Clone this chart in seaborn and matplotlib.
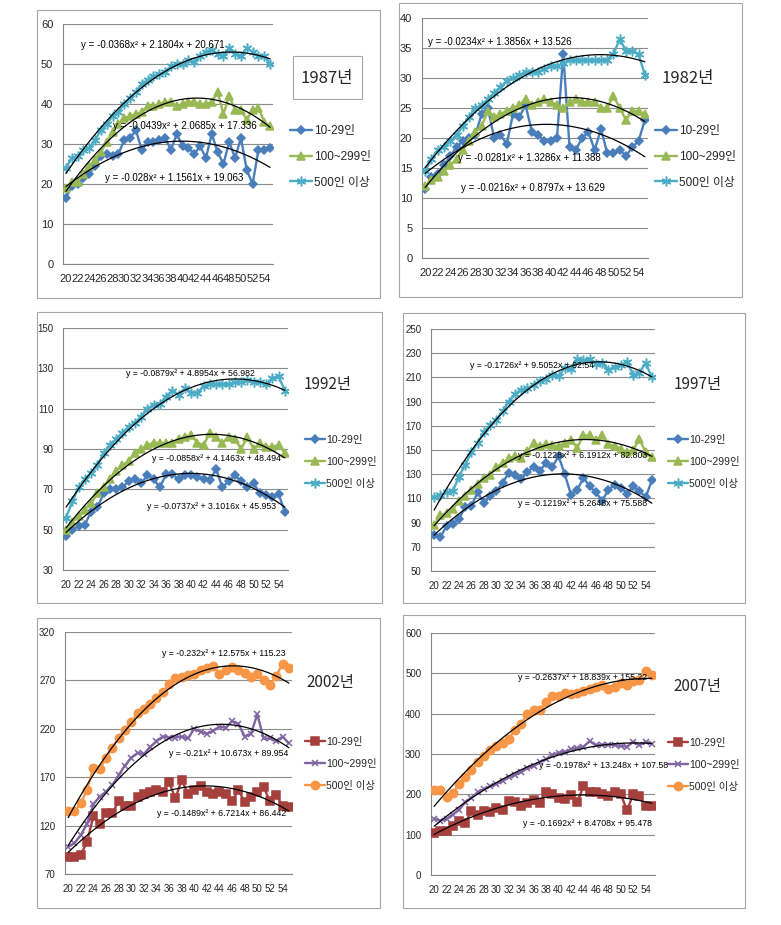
import numpy as np
import seaborn as sns
import matplotlib.pyplot as plt
from matplotlib.lines import Line2D
from matplotlib.patches import Rectangle

# 연령 (20~55세), x축 눈금 라벨
ages = list(range(20, 56))
tick_labels = [str(a) for a in range(20, 56, 2)]
groups = ['10-29인', '100~299인', '500인 이상']

# ---- 1987 ----
y1987_small = [16.5, 19.5, 20, 21.5, 22.5, 24.5, 27, 27.5, 27, 27.5, 31, 31.5, 33.5, 28.5, 30.5, 30.5, 31, 31.5,
               28.5, 32.5, 29.5, 29, 27.5, 29.5, 26.5, 32.5, 28, 25, 30.5, 26.5, 31.5, 23.5, 20, 28.5, 28.5, 29]
y1987_mid = [19, 20.5, 20.5, 22.5, 24.5, 26, 28, 30.5, 33, 35, 36.5, 37, 37.5, 38, 39.5, 39.5, 40, 40.5,
             40.5, 39.5, 40, 40.5, 40.5, 40, 40, 40.5, 43, 37.5, 42, 38.5, 38.5, 36, 38.5, 39, 35.5, 34.5]
y1987_large = [24, 26.5, 27, 28.5, 29, 31, 33.5, 35, 37, 38, 40, 41.5, 43, 45, 46, 47, 47.5, 48,
               49.5, 50, 50, 51, 50.5, 52, 53, 53.5, 52.5, 52, 54, 52.5, 52, 54, 53, 52, 52, 50]
eq1987 = ['y = -0.028x² + 1.1561x + 19.063', 'y = -0.0439x² + 2.0685x + 17.336',
          'y = -0.0368x² + 2.1804x + 20.671']

# ---- 1982 ----
y1982_small = [11.5, 13.5, 14, 15.5, 17, 18.5, 19.5, 20, 20.5, 24, 25, 20, 20.5, 19, 24, 23.5, 25.5, 21,
               20.5, 19.5, 19.5, 20, 34, 18.5, 18, 20, 21, 18, 21.5, 17.5, 17.5, 18, 17, 18.5, 19.5, 23]
y1982_mid = [12, 13, 13.5, 14.5, 15.5, 16.5, 18, 19.5, 21, 22, 24.5, 23.5, 24, 24.5, 25, 25.5, 26.5, 25.5,
             26, 26.5, 26, 25.5, 25, 26, 26.5, 26, 26, 26, 25, 25, 27, 25, 23, 24.5, 24.5, 24]
y1982_large = [14.5, 16.5, 18, 18.5, 19.5, 20.5, 22, 23.5, 25, 25.5, 26.5, 27.5, 28.5, 29.5, 30, 30.5, 31, 31,
               31, 31.5, 32, 32, 32.5, 33, 33, 33, 33, 33, 33, 33, 34, 36.5, 34.5, 34.5, 34, 30.5]
eq1982 = ['y = -0.0216x² + 0.8797x + 13.629', 'y = -0.0281x² + 1.3286x + 11.388',
          'y = -0.0234x² + 1.3856x + 13.526']

# ---- 1992 ----
y1992_small = [47, 50, 52, 52.5, 59, 61, 68, 70, 70, 71, 74, 75, 73, 77, 75, 71, 77.5, 77.5,
               75, 77, 77, 76, 75, 74.5, 80, 71, 74, 77, 74, 71, 73, 68, 67, 66, 67.5, 59]
y1992_mid = [50, 54, 57, 60, 63, 68, 71, 75, 79, 82, 84, 88, 90, 92, 93, 93, 93, 93,
             95, 96, 97, 93, 92, 98, 96, 93, 96, 95, 90, 96, 90, 93, 91, 91, 92, 88]
y1992_large = [56, 64, 71, 75, 78, 82, 88, 92, 95, 98, 101, 103, 106, 110, 112, 112.5, 116, 119,
               117, 120, 118, 118, 121, 122, 122, 122, 122, 123, 123, 124, 123, 123, 122, 125, 126, 119]
eq1992 = ['y = -0.0737x² + 3.1016x + 45.953', 'y = -0.0858x² + 4.1463x + 48.494',
          'y = -0.0879x² + 4.8954x + 56.982']

# ---- 1997 ----
y1997_small = [80, 78, 87, 89, 93, 103, 104, 115, 106, 112, 116, 123, 131, 129, 126, 132, 136, 133,
               139, 136, 145, 130, 113, 117, 127, 120, 115, 108, 117, 121, 119, 114, 120, 116, 111, 125]
y1997_mid = [88, 96, 98, 101, 108, 112, 117, 122, 127, 129, 136, 139, 143, 145, 143, 149, 156, 153,
             155, 154, 153, 156, 158, 152, 162, 162, 158, 162, 155, 153, 151, 148, 150, 159, 148, 144]
y1997_large = [111, 113, 115, 116, 128, 138, 148, 156, 165, 171, 175, 182, 190, 196, 200, 201, 204, 207,
               209, 212, 211, 218, 217, 225, 224, 225, 221, 222, 216, 219, 220, 223, 212, 214, 222, 210]
eq1997 = ['y = -0.1219x² + 5.2648x + 75.588', 'y = -0.1228x² + 6.1912x + 82.803',
          'y = -0.1726x² + 9.5052x + 92.54']

# ---- 2002 ----
y2002_small = [88, 88, 90, 103, 130, 122, 133, 133, 145, 140, 140, 150, 153, 155, 157, 155, 165, 148,
               167, 153, 157, 161, 155, 153, 155, 153, 145, 157, 144, 150, 155, 160, 145, 152, 140, 139]
y2002_mid = [98, 102, 110, 122, 142, 150, 155, 162, 172, 182, 190, 195, 194, 201, 207, 212, 211, 211,
             212, 210, 220, 217, 215, 218, 222, 221, 228, 225, 212, 215, 235, 210, 210, 207, 212, 205]
y2002_large = [135, 135, 143, 157, 180, 178, 190, 200, 211, 219, 227, 236, 240, 246, 252, 258, 266, 272,
               274, 276, 277, 281, 283, 285, 277, 281, 284, 281, 278, 274, 277, 270, 265, 275, 287, 283]
eq2002 = ['y = -0.1489x² + 6.7214x + 86.442', 'y = -0.21x² + 10.673x + 89.954',
          'y = -0.232x² + 12.575x + 115.23']

# ---- 2007 ----
y2007_small = [105, 110, 110, 122, 135, 130, 158, 148, 158, 155, 165, 162, 183, 182, 172, 178, 185, 178,
               205, 200, 190, 188, 198, 180, 220, 205, 205, 202, 195, 205, 200, 160, 200, 195, 172, 170]
y2007_mid = [140, 135, 138, 150, 162, 180, 192, 205, 213, 220, 225, 233, 242, 248, 255, 265, 270, 280,
             287, 297, 303, 305, 312, 315, 318, 332, 322, 323, 323, 322, 320, 318, 330, 322, 330, 325]
y2007_large = [210, 210, 193, 203, 225, 243, 260, 280, 295, 310, 320, 328, 338, 360, 375, 400, 410, 410,
               430, 445, 445, 452, 450, 452, 455, 462, 465, 470, 462, 465, 475, 472, 480, 483, 505, 495]
eq2007 = ['y = -0.1692x² + 8.4708x + 95.478', 'y = -0.1978x² + 13.248x + 107.58',
          'y = -0.2637x² + 18.839x + 155.22']

# 시리즈 스타일 (엑셀 기본 색)
style_a = [dict(color='#4A7EBB', marker='D', ms=4.5),
           dict(color='#98B954', marker='^', ms=6),
           dict(color='#4BACC6', marker=(6, 2, 0), ms=7)]
style_b = [dict(color='#A5403D', marker='s', ms=5.5),
           dict(color='#8064A2', marker='x', ms=5),
           dict(color='#F79646', marker='o', ms=6)]

W, H = 781, 925

def fx(px):
    return px / W

def fy(py):
    return 1 - py / H

# 패널 배치 (픽셀 기준)
panels = [
    dict(year='1987년', data=[y1987_small, y1987_mid, y1987_large], eq=eq1987, st=style_a,
         box=(37, 10, 380, 298), plot=(63, 24, 273, 264), ylim=(0, 60), step=10,
         title=(327, 78), tbox=(293, 56, 362, 99), leg=(290, 157),
         eqpos=[(105, 178), (113, 126), (81, 45)], fs=8, eqfs=7, tfs=12),
    dict(year='1982년', data=[y1982_small, y1982_mid, y1982_large], eq=eq1982, st=style_a,
         box=(399, 3, 742, 297), plot=(422, 18, 648, 258), ylim=(0, 40), step=5,
         title=(688, 78), tbox=None, leg=(655, 157),
         eqpos=[(461, 188), (458, 158), (428, 42)], fs=8, eqfs=7, tfs=12),
    dict(year='1992년', data=[y1992_small, y1992_mid, y1992_large], eq=eq1992, st=style_a,
         box=(37, 312, 382, 603), plot=(63, 328, 288, 570), ylim=(30, 150), step=20,
         title=(328, 385), tbox=None, leg=(305, 462),
         eqpos=[(147, 507), (152, 458), (126, 373)], fs=7, eqfs=6.3, tfs=11),
    dict(year='1997년', data=[y1997_small, y1997_mid, y1997_large], eq=eq1997, st=style_a,
         box=(403, 313, 745, 603), plot=(431, 329, 655, 571), ylim=(50, 250), step=20,
         title=(698, 385), tbox=None, leg=(668, 462),
         eqpos=[(518, 503), (518, 455), (470, 365)], fs=7, eqfs=6.3, tfs=11),
    dict(year='2002년', data=[y2002_small, y2002_mid, y2002_large], eq=eq2002, st=style_b,
         box=(37, 618, 380, 908), plot=(65, 632, 292, 874), ylim=(70, 320), step=50,
         title=(330, 682), tbox=None, leg=(305, 764),
         eqpos=[(157, 813), (169, 753), (162, 653)], fs=7, eqfs=6.3, tfs=11),
    dict(year='2007년', data=[y2007_small, y2007_mid, y2007_large], eq=eq2007, st=style_b,
         box=(403, 615, 745, 908), plot=(431, 633, 655, 875), ylim=(0, 600), step=100,
         title=(697, 687), tbox=None, leg=(668, 765),
         eqpos=[(523, 823), (539, 765), (518, 678)], fs=7, eqfs=6.3, tfs=11),
]

sns.set_theme(style='white')
plt.rcParams['font.family'] = ['Liberation Sans', 'Noto Sans CJK KR', 'DejaVu Sans']

fig = plt.figure(figsize=(W / 100, H / 100), dpi=100)
fig.patch.set_facecolor('white')

x_idx = np.arange(len(ages))

for p in panels:
    bl, bt, br, bb = p['box']
    fig.add_artist(Rectangle((fx(bl), fy(bb)), fx(br) - fx(bl), (bb - bt) / H,
                             transform=fig.transFigure, fill=False, ec='#a6a6a6', lw=0.8))

    l, t, r, b = p['plot']
    ax = fig.add_axes([fx(l), fy(b), fx(r) - fx(l), (b - t) / H])

    handles = []
    for vals, st, eq, (ex, ey) in zip(p['data'], p['st'], p['eq'], p['eqpos']):
        sns.lineplot(x=x_idx, y=vals, ax=ax, color=st['color'], lw=1.7,
                     marker=st['marker'], markersize=st['ms'], markeredgecolor=st['color'],
                     markeredgewidth=1.1, zorder=3)
        # 2차 다항 추세선
        sns.regplot(x=x_idx, y=np.array(vals, dtype=float), ax=ax, order=2, ci=None,
                    scatter=False, truncate=True,
                    line_kws=dict(color='black', lw=0.9, zorder=5))
        fig.text(fx(ex), fy(ey), eq, fontsize=p['eqfs'], ha='left', va='center',
                 color='black', zorder=10)
        handles.append(Line2D([], [], color=st['color'], lw=1.7, marker=st['marker'],
                              markersize=st['ms'], markeredgecolor=st['color'],
                              markeredgewidth=1.1))

    ymin, ymax = p['ylim']
    ax.set_ylim(ymin, ymax)
    ax.set_xlim(-0.5, len(ages) - 0.5)
    ax.set_yticks(np.arange(ymin, ymax + 1, p['step']))
    ax.set_xticks(np.arange(-0.5, len(ages), 1.0))
    ax.set_xticklabels([])
    ax.set_xticks(np.arange(0, len(ages), 2), minor=True)
    ax.set_xticklabels(tick_labels, minor=True)
    ax.tick_params(axis='x', which='major', length=4, width=0.7, color='#868686', direction='out')
    ax.tick_params(axis='x', which='minor', length=0, pad=7, labelsize=p['fs'])
    ax.tick_params(axis='y', length=3, width=0.7, color='#868686', direction='out',
                   labelsize=p['fs'], pad=4)
    ax.yaxis.grid(True, color='#8c8c8c', lw=0.8)
    ax.set_axisbelow(True)
    for s in ['top', 'right']:
        ax.spines[s].set_visible(False)
    for s in ['left', 'bottom']:
        ax.spines[s].set_color('#868686')
        ax.spines[s].set_linewidth(0.8)
    ax.set_xlabel('')
    ax.set_ylabel('')
    ax.set_facecolor('none')

    # 범례
    lx, ly = p['leg']
    fig.legend(handles, groups, loc='center left', bbox_to_anchor=(fx(lx), fy(ly)),
               frameon=False, fontsize=p['fs'] + 0.5, handlelength=1.9, handletextpad=0.1,
               labelspacing=1.15, borderpad=0, borderaxespad=0)

    # 연도 제목
    tx, ty = p['title']
    fig.text(fx(tx), fy(ty), p['year'], fontsize=p['tfs'], ha='center', va='center',
             family=['Noto Sans CJK KR'])
    if p['tbox'] is not None:
        kl, kt, kr, kb = p['tbox']
        fig.add_artist(Rectangle((fx(kl), fy(kb)), fx(kr) - fx(kl), (kb - kt) / H,
                                 transform=fig.transFigure, fill=False, ec='#a6a6a6', lw=0.8))

fig.savefig('out.png', dpi=100, facecolor='white')
